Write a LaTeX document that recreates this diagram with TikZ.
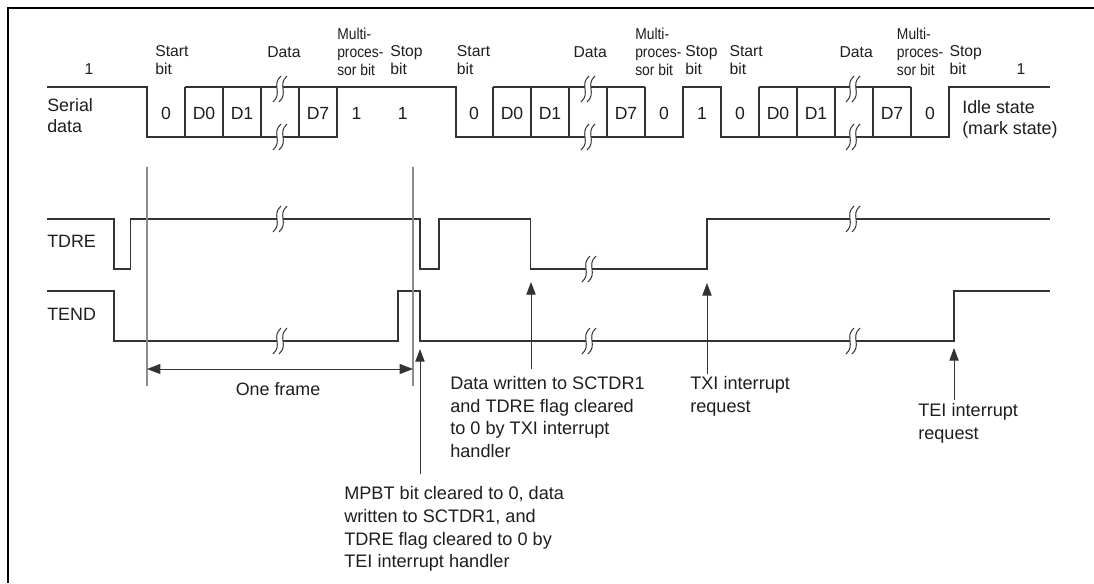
\documentclass[tikz,border=0pt]{standalone}
\usepackage{fontspec}
\setmainfont{Liberation Sans}
\newfontfamily\condfont[FakeStretch=0.88]{Liberation Sans}
\usetikzlibrary{arrows.meta}
\definecolor{sigc}{HTML}{333333}
\definecolor{gl}{HTML}{8C8C8C}
\definecolor{txt}{HTML}{1E1E1E}
\newcommand\myS{\fontsize{11.8}{13.5}\selectfont}
\newcommand\myC{\condfont\fontsize{11.8}{13.5}\selectfont}
\newcommand\myL{\fontsize{13.4}{15.6}\selectfont}
\newcommand\myB{\fontsize{13.6}{17}\selectfont}
\newcommand\myD{\fontsize{13.2}{15}\selectfont}
\tikzset{
  sig/.style={draw=sigc, line width=1pt, line join=miter},
  cell/.style={draw=sigc, line width=1pt},
  gline/.style={draw=gl, line width=0.9pt},
  arr/.style={draw=sigc, line width=0.75pt, -{Triangle[length=9.5pt,width=7pt]}},
  dimarr/.style={draw=sigc, line width=0.75pt, {Triangle[length=10pt,width=7.5pt]}-{Triangle[length=10pt,width=7.5pt]}},
  lblS/.style={font=\myS, inner sep=0pt, text=txt, align=left},
  lblC/.style={font=\myC, inner sep=0pt, text=txt, align=left},
  lblL/.style={font=\myL, inner sep=0pt, text=txt, align=left},
  lblB/.style={font=\myB, inner sep=0pt, text=txt, align=left},
  celltxt/.style={font=\myD, inner sep=0pt, text=txt},
  brk/.pic={
    \fill[white] (1,-13) .. controls (-9,-4) and (3,4) .. (-7,13) -- (-1,13) .. controls (9,4) and (-3,-4) .. (7,-13) -- cycle;
    \draw[sigc, line width=0.75pt] (1,-13) .. controls (-9,-4) and (3,4) .. (-7,13);
    \draw[sigc, line width=0.75pt] (7,-13) .. controls (-3,-4) and (9,4) .. (-1,13);
  }
}
\begin{document}
\begin{tikzpicture}[x=0.75pt,y=-0.75pt]
\useasboundingbox (0,0) rectangle (1094,583);
% frame
\draw[line width=1.6pt, black] (7.7,583) -- (7.7,7.7) -- (1094,7.7);

% ---------- Serial data ----------
\draw[sig] (47,87) -- (147,87) -- (147,137) -- (337,137) -- (337,87) -- (456,87) -- (456,137)
  -- (683,137) -- (683,87) -- (721,87) -- (721,137) -- (949,137) -- (949,87) -- (1050,87);
% data boxes
\draw[cell] (185,87) -- (337,87);
\foreach \x in {185,223,261,299} \draw[cell] (\x,87) -- (\x,137);
\draw[cell] (493,87) -- (645,87);
\foreach \x in {493,531,569,607,645} \draw[cell] (\x,87) -- (\x,137);
\draw[cell] (759,87) -- (911,87);
\foreach \x in {759,797,835,873,911} \draw[cell] (\x,87) -- (\x,137);

% ---------- TDRE ----------
\draw[sig] (47,219) -- (114,219) -- (114,269) -- (130.5,269) -- (130.5,219) -- (420,219) -- (420,269)
  -- (439,269) -- (439,219) -- (530.5,219) -- (530.5,269) -- (707,269) -- (707,219) -- (1050,219);
% ---------- TEND ----------
\draw[sig] (47,291) -- (114,291) -- (114,341) -- (398,341) -- (398,291) -- (420,291) -- (420,341)
  -- (954,341) -- (954,291) -- (1050,291);

% break marks
\foreach \p in {(280,89),(280,137),(588,89),(588,137),(853,89),(853,137),
                (280,219),(589,269),(853,219),(280,341),(589,341),(853,341)}
  \pic at \p {brk};

% grey frame lines
\coordinate (g1t) at (147,167); \coordinate (g1b) at (147,386);
\coordinate (g2t) at (413,167); \coordinate (g2b) at (413,386);
\draw[gline] (g1t) -- (g1b);
\draw[gline] (g2t) -- (g2b);

% one frame
\coordinate (ofl) at (147,369); \coordinate (ofr) at (413,369);
\draw[dimarr] (ofl) -- (ofr);
\node[lblL, anchor=base] (oneframe) at (278,395.5) {One frame};

% arrows
\coordinate (m1) at (420,474); \coordinate (m2) at (420,349);
\draw[arr] (m1) -- (m2);
\coordinate (d1) at (531,369); \coordinate (d2) at (531,282);
\draw[arr] (d1) -- (d2);
\coordinate (x1) at (707,374); \coordinate (x2) at (707,283);
\draw[arr] (x1) -- (x2);
\coordinate (e1) at (954,400); \coordinate (e2) at (954,348);
\draw[arr] (e1) -- (e2);

% ---------- top labels ----------
\node[lblS, anchor=base] (one1) at (89,74) {1};
\node[lblS, anchor=base] (one2) at (1021,74) {1};
\node[lblS, anchor=north west] (st1) at (155,45.6) {Start\\bit};
\node[lblS, anchor=base west] (da1) at (267,57) {Data};
\node[lblC, anchor=north west] (mp1) at (337,27.6) {Multi-\\proces-\\sor bit};
\node[lblS, anchor=north west] (sp1) at (390,45.6) {Stop\\bit};
\node[lblS, anchor=north west] (st2) at (456.7,45.6) {Start\\bit};
\node[lblS, anchor=base west] (da2) at (573.3,57) {Data};
\node[lblC, anchor=north west] (mp2) at (635,27.6) {Multi-\\proces-\\sor bit};
\node[lblS, anchor=north west] (sp2) at (685,45.6) {Stop\\bit};
\node[lblS, anchor=north west] (st3) at (729.3,45.6) {Start\\bit};
\node[lblS, anchor=base west] (da3) at (839.3,57) {Data};
\node[lblC, anchor=north west] (mp3) at (896.7,27.6) {Multi-\\proces-\\sor bit};
\node[lblS, anchor=north west] (sp3) at (949.3,45.6) {Stop\\bit};

% cell texts
\foreach \x/\t [count=\i] in {166/0,204/D0,242/D1,318/D7,356.5/1,402.7/1,
   474/0,512/D0,550/D1,626/D7,664/0,702/1,
   740/0,778/D0,816/D1,892/D7,930/0}
  \node[celltxt, anchor=base] (c\i) at (\x,119) {\t};

% side labels
\node[lblL, anchor=north west, font=\fontsize{13.4}{15.4}\selectfont] (serial) at (47,98.3) {Serial\\data};
\node[lblL, anchor=north west, font=\fontsize{13.4}{16}\selectfont] (idle) at (962,100) {Idle state\\(mark state)};
\node[lblL, anchor=base west] (tdre) at (47,247.5) {TDRE};
\node[lblL, anchor=base west] (tend) at (47,320) {TEND};

% bottom notes
\node[lblB, anchor=north west] (dw) at (450,376) {Data written to SCTDR1\\and TDRE flag cleared\\to 0 by TXI interrupt\\handler};
\node[lblB, anchor=north west] (txi) at (690,376) {TXI interrupt\\request};
\node[lblB, anchor=north west] (tei) at (918,403) {TEI interrupt\\request};
\node[lblB, anchor=north west] (mpbt) at (344,486.3) {MPBT bit cleared to 0, data\\written to SCTDR1, and\\TDRE flag cleared to 0 by\\TEI interrupt handler};
\end{tikzpicture}
\end{document}
